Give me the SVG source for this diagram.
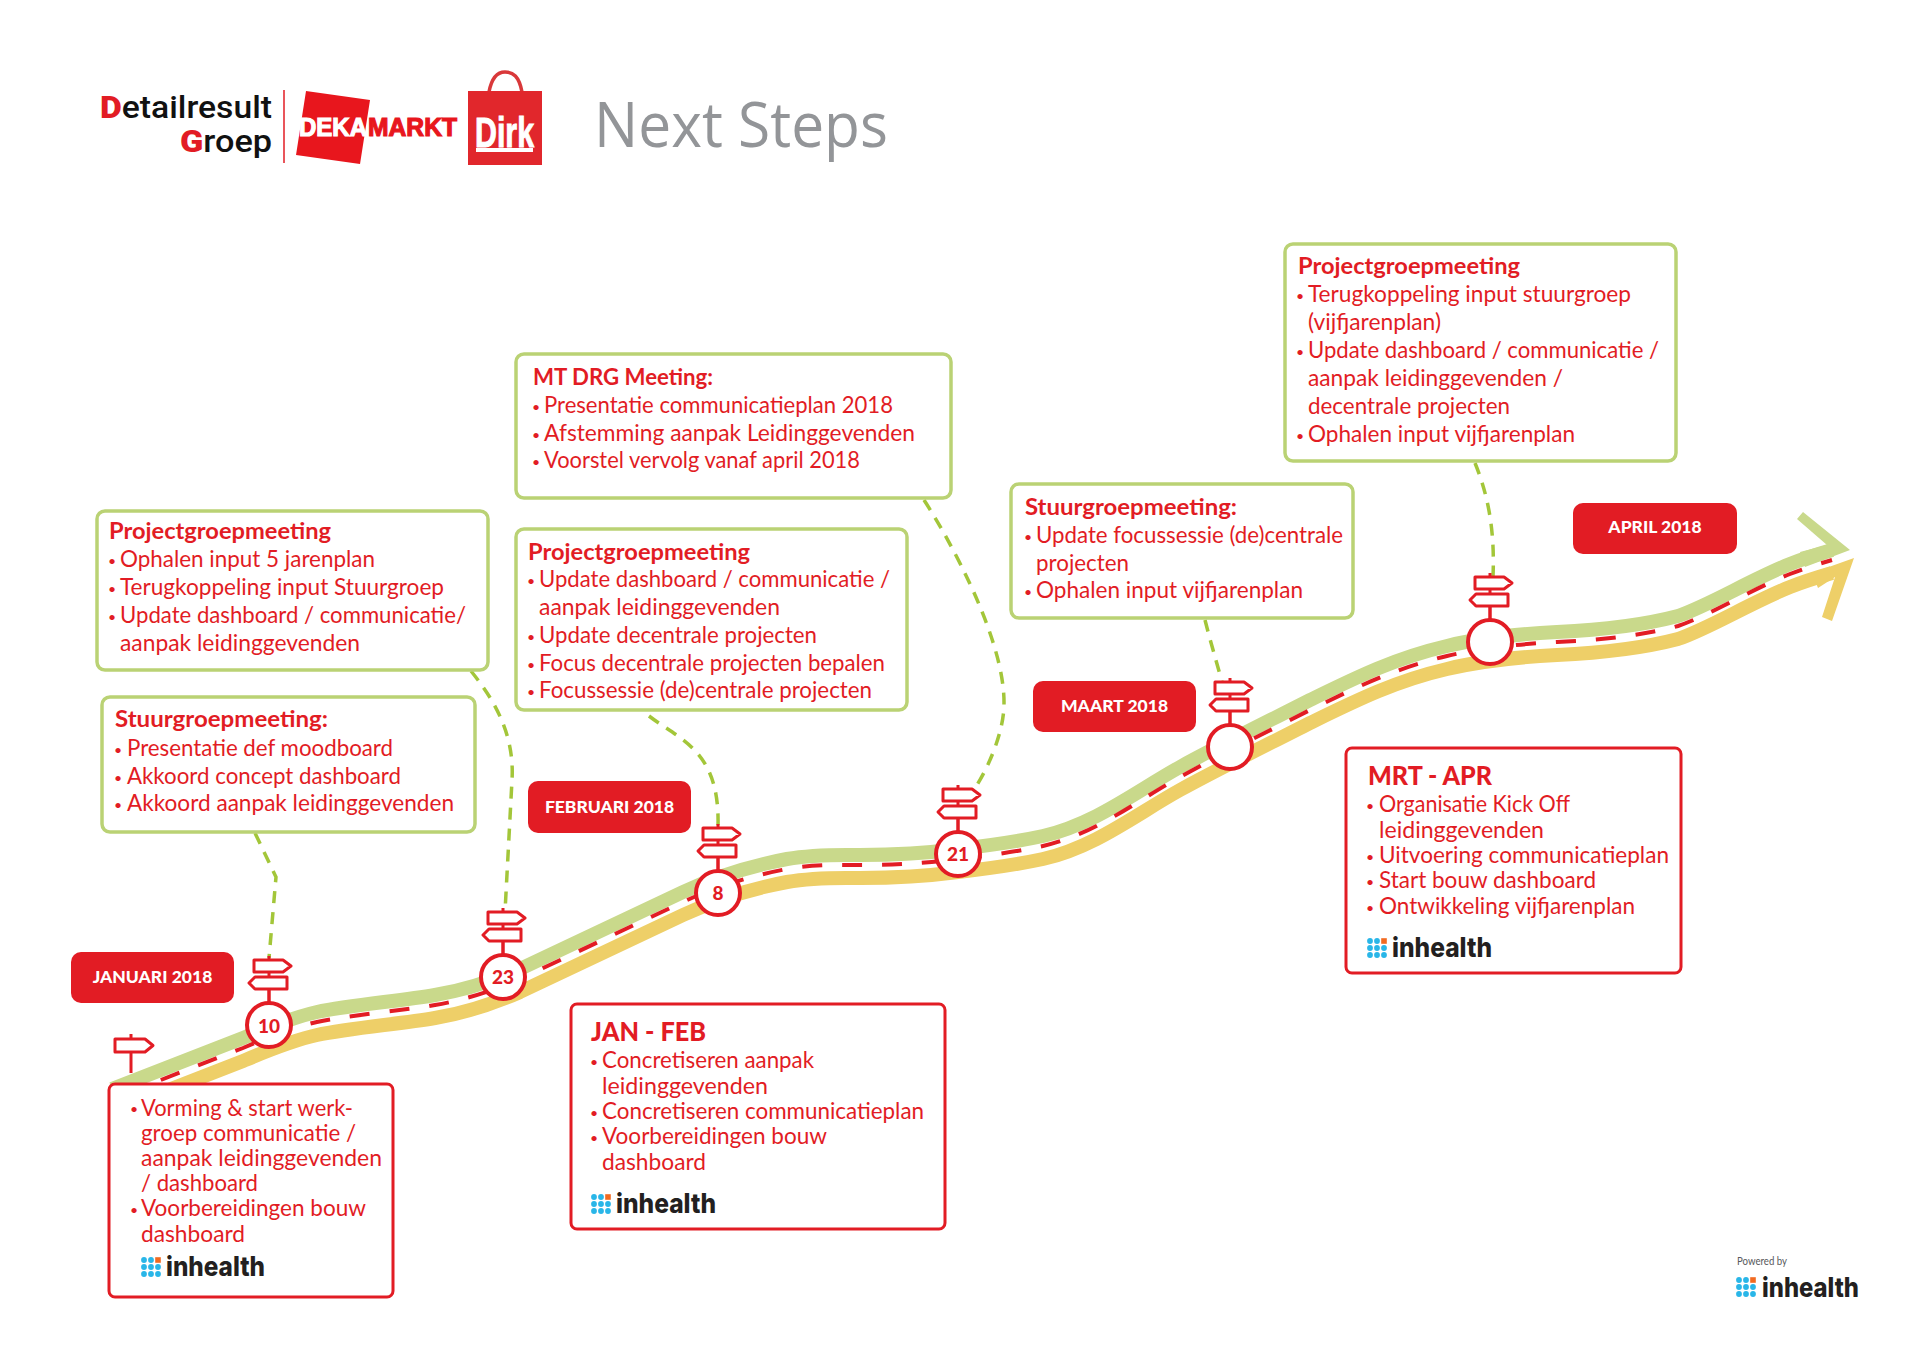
<svg xmlns="http://www.w3.org/2000/svg" width="1920" height="1358" viewBox="0 0 1920 1358">
<style>
text{font-family:"Lato","Open Sans","Liberation Sans",sans-serif}
.g{fill:#fff;stroke:#bad274;stroke-width:3.5}
.r{fill:#fff;stroke:#e21c24;stroke-width:3}
.l{fill:#e21c24}
.lt{fill:#fff;font-weight:900;font-size:17.5px;text-anchor:middle}
.t{fill:#e21c24;font-size:22.6px}
.u{fill:#e21c24;font-size:23.2px}
.h{fill:#e21c24;font-size:23.5px;font-weight:700}
.big{fill:#e21c24;font-size:27px;font-weight:900}
.b{fill:#e21c24;font-size:14px}
.ih{fill:#231f20;font-family:"Inter","Roboto",sans-serif;font-weight:800;font-size:27px}
.c{fill:#fff;stroke:#e21c24;stroke-width:4}
.n{fill:#e21c24;font-weight:900;font-size:19px;text-anchor:middle}
.s{fill:#fff;stroke:#e21c24;stroke-width:3;stroke-linejoin:round}
.p{stroke:#e21c24;stroke-width:3;fill:none}
.ld{fill:none;stroke:#a3c639;stroke-width:3.5;stroke-dasharray:12 9}
.dr{fill:none;stroke-width:14}
</style>
<defs>
<path id="road" d="M112 1099L243 1048C262 1040 290 1028 317 1022C350 1015 400 1011 435 1005C465 1000 495 990 520 979C590 946 640 922 683 902C715 887 750 876 787 869C815 864 840 865 860 865C890 865 920 864 958 859C985 856 1015 852 1043 846C1095 834 1135 802 1180 777C1220 755 1265 733 1310 710C1355 688 1395 668 1447 656C1480 648 1520 644 1557 642C1600 640 1640 636 1678 626C1710 615 1750 590 1790 574C1800 570 1815 565 1832 560"/>
<g id="sign">
<path class="p" d="M0-23V-40M0-53V-48M0-69V-65"/>
<path class="s" d="M-15-65H14L22-59L14-53H-15Z"/>
<path class="s" d="M18-48H-14L-20-42L-14-36H18Z"/>
<path class="p" d="M0-36V-23"/>
</g>
<g id="dots">
<g fill="#29b6e8">
<circle cx="3" cy="3" r="2.9"/><circle cx="10" cy="3" r="2.9"/>
<circle cx="3" cy="10" r="2.9"/><circle cx="10" cy="10" r="2.9"/><circle cx="17" cy="10" r="2.9"/>
<circle cx="3" cy="17" r="2.9"/><circle cx="10" cy="17" r="2.9"/><circle cx="17" cy="17" r="2.9"/>
</g>
<rect x="14.2" y="0.2" width="5.6" height="5.6" fill="#f26a21"/>
</g>
</defs>

<g id="header">
<g id="logo-detailresult">
<text x="272" y="118" text-anchor="end" font-weight="500" font-size="31" textLength="172" lengthAdjust="spacingAndGlyphs" style="font-family:Roboto,sans-serif" fill="#111"><tspan fill="#e21c24" font-weight="900">D</tspan>etailresult</text>
<text x="272" y="152" text-anchor="end" font-weight="500" font-size="31" textLength="92" lengthAdjust="spacingAndGlyphs" style="font-family:Roboto,sans-serif" fill="#111"><tspan fill="#e21c24" font-weight="900">G</tspan>roep</text>
<path d="M284 90V163" stroke="#e21c24" stroke-width="1.5"/>
</g>
<g id="logo-dekamarkt">
<path d="M306 91L370 100L360 164L296 155Z" fill="#e8161d"/>
<text x="299" y="136" font-weight="700" font-size="26" fill="#fff" stroke="#fff" stroke-width="1.2" textLength="68" lengthAdjust="spacingAndGlyphs" style="font-family:'Liberation Sans',sans-serif">DEKA</text>
<text x="368" y="136" font-weight="700" font-size="26" fill="#e8161d" stroke="#e8161d" stroke-width="1.2" textLength="89" lengthAdjust="spacingAndGlyphs" style="font-family:'Liberation Sans',sans-serif">MARKT</text>
</g>
<g id="logo-dirk">
<path d="M489 92C492 76 498 72 505 72C513 72 519 76 522 92" fill="none" stroke="#d9383a" stroke-width="3.500"/>
<rect x="468" y="91" width="74" height="74" fill="#e1272c"/>
<text x="475" y="147" font-weight="700" font-size="42" fill="#fff" stroke="#fff" stroke-width="1" textLength="59" lengthAdjust="spacingAndGlyphs" style="font-family:'Liberation Sans',sans-serif">Dirk</text>
<rect x="476" y="148" width="57" height="4" fill="#fff"/>
</g>
<text id="title" x="594" y="147" font-size="62" fill="#939598" textLength="294" lengthAdjust="spacingAndGlyphs" style="font-family:'Open Sans',sans-serif;font-weight:400">Next Steps</text>
</g>

<g id="connectors">
<use href="#road" class="dr" stroke="#c9d98b" transform="translate(0,-10)"/>
<use href="#road" class="dr" stroke="#eecf68" transform="translate(0,13)"/>
<path id="arrow-green" d="M1803 512L1797 519L1827 545L1800 552L1805 567L1850 550Z" fill="#c9d98b"/>
<path id="arrow-yellow" d="M1854 558L1812 573L1818 588L1835 577L1822 617L1832 621Z" fill="#eecf68"/>
<use href="#road" fill="none" stroke="#e21c24" stroke-width="4" stroke-dasharray="20 20" stroke-dashoffset="-12.400"/>
<path class="ld" d="M255 833L276 877L269 958"/>
<path class="ld" d="M471 671C490 695 515 730 512 780L505 912"/>
<path class="ld" d="M649 716C680 740 720 750 718 826"/>
<path class="ld" d="M924 500C950 540 1005 640 1004 704C1004 730 990 765 975 788"/>
<path class="ld" d="M1205 620C1210 640 1216 660 1222 682"/>
<path class="ld" d="M1475 463C1488 495 1495 530 1493 577"/>
</g>

<g id="sign-start">
<path class="p" d="M131 1034V1073"/>
<path class="s" d="M115 1039H145L153 1045.500L145 1052H115Z"/>
</g>
<g id="m10"><use href="#sign" x="269" y="1025"/><circle class="c" cx="269" cy="1025" r="22"/><text class="n" x="269" y="1033">10</text></g>
<g id="m23"><use href="#sign" x="503" y="977"/><circle class="c" cx="503" cy="977" r="22"/><text class="n" x="503" y="984">23</text></g>
<g id="m8"><use href="#sign" x="718" y="893"/><circle class="c" cx="718" cy="893" r="22"/><text class="n" x="718" y="900">8</text></g>
<g id="m21"><use href="#sign" x="958" y="854"/><circle class="c" cx="958" cy="854" r="22"/><text class="n" x="958" y="861">21</text></g>
<g id="m-maart"><use href="#sign" x="1230" y="747"/><circle class="c" cx="1230" cy="747" r="22"/></g>
<g id="m-april"><use href="#sign" x="1490" y="642"/><circle class="c" cx="1490" cy="642" r="22"/></g>

<g id="label-januari"><rect class="l" x="71" y="952" width="163" height="51" rx="10"/><text class="lt" x="152.500" y="983">JANUARI 2018</text></g>
<g id="label-februari"><rect class="l" x="528" y="781" width="163" height="52" rx="10"/><text class="lt" x="609.500" y="813">FEBRUARI 2018</text></g>
<g id="label-maart"><rect class="l" x="1033" y="681" width="163" height="51" rx="10"/><text class="lt" x="1114.500" y="712">MAART 2018</text></g>
<g id="label-april"><rect class="l" x="1573" y="503" width="164" height="51" rx="10"/><text class="lt" x="1655" y="533">APRIL 2018</text></g>

<g id="box-project-1">
<rect class="g" x="97" y="511" width="391" height="159" rx="8"/>
<text class="h" x="109" y="539" textLength="222" lengthAdjust="spacingAndGlyphs">Projectgroepmeeting</text>
<text class="b" x="108" y="566">•</text><text class="t" x="120" y="567" textLength="255" lengthAdjust="spacingAndGlyphs">Ophalen input 5 jarenplan</text>
<text class="b" x="108" y="594">•</text><text class="t" x="120" y="595" textLength="324" lengthAdjust="spacingAndGlyphs">Terugkoppeling input Stuurgroep</text>
<text class="b" x="108" y="622">•</text><text class="t" x="120" y="623" textLength="346" lengthAdjust="spacingAndGlyphs">Update dashboard / communicatie/</text>
<text class="t" x="120" y="651" textLength="240" lengthAdjust="spacingAndGlyphs">aanpak leidinggevenden</text>
</g>
<g id="box-stuur-1">
<rect class="g" x="102" y="697" width="373" height="135" rx="8"/>
<text class="h" x="115" y="727" textLength="213" lengthAdjust="spacingAndGlyphs">Stuurgroepmeeting:</text>
<text class="b" x="114" y="755">•</text><text class="t" x="127" y="756" textLength="266" lengthAdjust="spacingAndGlyphs">Presentatie def moodboard</text>
<text class="b" x="114" y="783">•</text><text class="t" x="127" y="784" textLength="274" lengthAdjust="spacingAndGlyphs">Akkoord concept dashboard</text>
<text class="b" x="114" y="810">•</text><text class="t" x="127" y="811" textLength="327" lengthAdjust="spacingAndGlyphs">Akkoord aanpak leidinggevenden</text>
</g>
<g id="box-mt">
<rect class="g" x="516" y="354" width="435" height="144" rx="8"/>
<text class="h" x="533" y="385" textLength="180" lengthAdjust="spacingAndGlyphs">MT DRG Meeting:</text>
<text class="b" x="532" y="412">•</text><text class="t" x="544" y="413" textLength="349" lengthAdjust="spacingAndGlyphs">Presentatie communicatieplan 2018</text>
<text class="b" x="532" y="440">•</text><text class="t" x="544" y="441" textLength="371" lengthAdjust="spacingAndGlyphs">Afstemming aanpak Leidinggevenden</text>
<text class="b" x="532" y="467">•</text><text class="t" x="544" y="468" textLength="316" lengthAdjust="spacingAndGlyphs">Voorstel vervolg vanaf april 2018</text>
</g>
<g id="box-project-2">
<rect class="g" x="516" y="529" width="391" height="181" rx="8"/>
<text class="h" x="528" y="560" textLength="222" lengthAdjust="spacingAndGlyphs">Projectgroepmeeting</text>
<text class="b" x="527" y="586">•</text><text class="t" x="539" y="587" textLength="351" lengthAdjust="spacingAndGlyphs">Update dashboard / communicatie /</text>
<text class="t" x="539" y="615" textLength="241" lengthAdjust="spacingAndGlyphs">aanpak leidinggevenden</text>
<text class="b" x="527" y="642">•</text><text class="t" x="539" y="643" textLength="278" lengthAdjust="spacingAndGlyphs">Update decentrale projecten</text>
<text class="b" x="527" y="670">•</text><text class="t" x="539" y="671" textLength="346" lengthAdjust="spacingAndGlyphs">Focus decentrale projecten bepalen</text>
<text class="b" x="527" y="697">•</text><text class="t" x="539" y="698" textLength="333" lengthAdjust="spacingAndGlyphs">Focussessie (de)centrale projecten</text>
</g>
<g id="box-stuur-2">
<rect class="g" x="1011" y="484" width="342" height="134" rx="8"/>
<text class="h" x="1025" y="515" textLength="212" lengthAdjust="spacingAndGlyphs">Stuurgroepmeeting:</text>
<text class="b" x="1024" y="542">•</text><text class="t" x="1036" y="543" textLength="307" lengthAdjust="spacingAndGlyphs">Update focussessie (de)centrale</text>
<text class="t" x="1036" y="571" textLength="93" lengthAdjust="spacingAndGlyphs">projecten</text>
<text class="b" x="1024" y="597">•</text><text class="t" x="1036" y="598" textLength="267" lengthAdjust="spacingAndGlyphs">Ophalen input vijfjarenplan</text>
</g>
<g id="box-project-3">
<rect class="g" x="1285" y="244" width="391" height="217" rx="8"/>
<text class="h" x="1298" y="274" textLength="222" lengthAdjust="spacingAndGlyphs">Projectgroepmeeting</text>
<text class="b" x="1296" y="301">•</text><text class="t" x="1308" y="302" textLength="323" lengthAdjust="spacingAndGlyphs">Terugkoppeling input stuurgroep</text>
<text class="t" x="1308" y="330" textLength="133" lengthAdjust="spacingAndGlyphs">(vijfjarenplan)</text>
<text class="b" x="1296" y="357">•</text><text class="t" x="1308" y="358" textLength="351" lengthAdjust="spacingAndGlyphs">Update dashboard / communicatie /</text>
<text class="t" x="1308" y="386" textLength="255" lengthAdjust="spacingAndGlyphs">aanpak leidinggevenden /</text>
<text class="t" x="1308" y="414" textLength="202" lengthAdjust="spacingAndGlyphs">decentrale projecten</text>
<text class="b" x="1296" y="441">•</text><text class="t" x="1308" y="442" textLength="267" lengthAdjust="spacingAndGlyphs">Ophalen input vijfjarenplan</text>
</g>

<g id="box-start">
<rect class="r" x="109" y="1084" width="284" height="213" rx="6"/>
<text class="b" x="130" y="1114">•</text><text class="u" x="141" y="1116" textLength="212" lengthAdjust="spacingAndGlyphs">Vorming &amp; start werk-</text>
<text class="u" x="141" y="1141" textLength="215" lengthAdjust="spacingAndGlyphs">groep communicatie /</text>
<text class="u" x="141" y="1166" textLength="241" lengthAdjust="spacingAndGlyphs">aanpak leidinggevenden</text>
<text class="u" x="141" y="1191" textLength="117" lengthAdjust="spacingAndGlyphs">/ dashboard</text>
<text class="b" x="130" y="1215">•</text><text class="u" x="141" y="1216" textLength="225" lengthAdjust="spacingAndGlyphs">Voorbereidingen bouw</text>
<text class="u" x="141" y="1242" textLength="104" lengthAdjust="spacingAndGlyphs">dashboard</text>
<use href="#dots" x="141" y="1257"/><text class="ih" x="166" y="1276" textLength="99" lengthAdjust="spacingAndGlyphs">inhealth</text>
</g>
<g id="box-jan-feb">
<rect class="r" x="571" y="1004" width="374" height="225" rx="6"/>
<text class="big" x="591" y="1041" textLength="115" lengthAdjust="spacingAndGlyphs">JAN - FEB</text>
<text class="b" x="590" y="1067">•</text><text class="u" x="602" y="1068" textLength="212" lengthAdjust="spacingAndGlyphs">Concretiseren aanpak</text>
<text class="u" x="602" y="1094" textLength="166" lengthAdjust="spacingAndGlyphs">leidinggevenden</text>
<text class="b" x="590" y="1118">•</text><text class="u" x="602" y="1119" textLength="322" lengthAdjust="spacingAndGlyphs">Concretiseren communicatieplan</text>
<text class="b" x="590" y="1143">•</text><text class="u" x="602" y="1144" textLength="225" lengthAdjust="spacingAndGlyphs">Voorbereidingen bouw</text>
<text class="u" x="602" y="1170" textLength="104" lengthAdjust="spacingAndGlyphs">dashboard</text>
<use href="#dots" x="591" y="1194"/><text class="ih" x="616" y="1213" textLength="100" lengthAdjust="spacingAndGlyphs">inhealth</text>
</g>
<g id="box-mrt-apr">
<rect class="r" x="1346" y="748" width="335" height="225" rx="6"/>
<text class="big" x="1368" y="785" textLength="124" lengthAdjust="spacingAndGlyphs">MRT - APR</text>
<text class="b" x="1366" y="811">•</text><text class="u" x="1379" y="812" textLength="191" lengthAdjust="spacingAndGlyphs">Organisatie Kick Off</text>
<text class="u" x="1379" y="838" textLength="165" lengthAdjust="spacingAndGlyphs">leidinggevenden</text>
<text class="b" x="1366" y="862">•</text><text class="u" x="1379" y="863" textLength="290" lengthAdjust="spacingAndGlyphs">Uitvoering communicatieplan</text>
<text class="b" x="1366" y="887">•</text><text class="u" x="1379" y="888" textLength="217" lengthAdjust="spacingAndGlyphs">Start bouw dashboard</text>
<text class="b" x="1366" y="913">•</text><text class="u" x="1379" y="914" textLength="256" lengthAdjust="spacingAndGlyphs">Ontwikkeling vijfjarenplan</text>
<use href="#dots" x="1367" y="938"/><text class="ih" x="1392" y="957" textLength="100" lengthAdjust="spacingAndGlyphs">inhealth</text>
</g>
<g id="powered">
<text x="1737" y="1265" font-size="11" fill="#58595b" textLength="50" lengthAdjust="spacingAndGlyphs">Powered by</text>
<use href="#dots" x="1736" y="1277"/><text class="ih" x="1762" y="1297" textLength="97" lengthAdjust="spacingAndGlyphs">inhealth</text>
</g>
</svg>
